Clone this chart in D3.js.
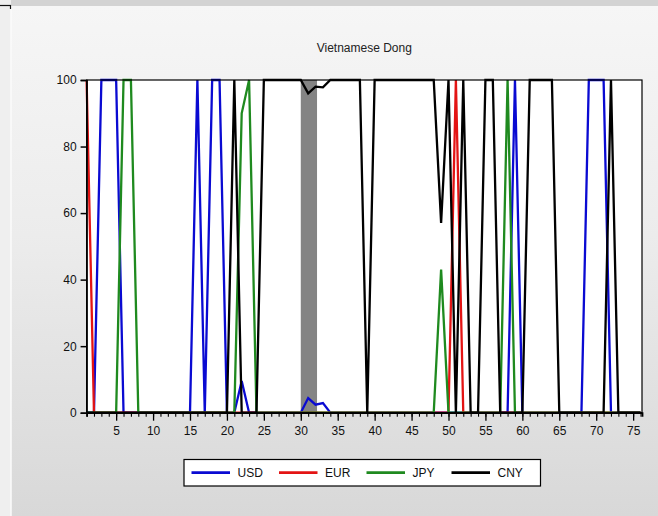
<!DOCTYPE html>
<html>
<head>
<meta charset="utf-8">
<script src="https://cdn.jsdelivr.net/npm/d3@7"></script>
<style>
  html, body { margin: 0; padding: 0; background: #ececec; }
  svg { display: block; font-family: "Liberation Sans", Arial, sans-serif; }
</style>
</head>
<body>
<svg id="chart" width="658" height="516"></svg>
<script>
// Observation index 1..76
const periods = d3.range(1, 77);

// Share (%) per currency, one value per period
const usd = [0,0,100,100,100,0,0,0,0,0, 0,0,0,0,0,100,0,100,100,0,
             0,9.5,0,0,0,0,0,0,0,0, 4.4,2.4,2.9,0,0,0,0,0,0,0,
             0,0,0,0,0,0,0,0,0,0, 0,0,0,0,0,0,0,0,100,0,
             0,0,0,0,0,0,0,0,100,100, 100,0,0,0,0,0];
const eur = [100,0,0,0,0,0,0,0,0,0, 0,0,0,0,0,0,0,0,0,0,
             0,0,0,0,0,0,0,0,0,0, 0,0,0,0,0,0,0,0,0,0,
             0,0,0,0,0,0,0,0,0,0, 100,0,0,0,0,0,0,0,0,0,
             0,0,0,0,0,0,0,0,0,0, 0,0,0,0,0,0];
const jpy = [0,0,0,0,0,100,100,0,0,0, 0,0,0,0,0,0,0,0,0,0,
             0,90,100,0,0,0,0,0,0,0, 0,0,0,0,0,0,0,0,0,0,
             0,0,0,0,0,0,0,0,43,0, 0,0,0,0,0,0,0,100,0,0,
             0,0,0,0,0,0,0,0,0,0, 0,0,0,0,0,0];
const cny = [0,0,0,0,0,0,0,0,0,0, 0,0,0,0,0,0,0,0,0,0,
             100,0,0,0,100,100,100,100,100,100, 96,98,97.8,100,100,100,100,100,0,100,
             100,100,100,100,100,100,100,100,57,100, 0,100,0,0,100,100,0,0,0,0,
             100,100,100,100,0,0,0,0,0,0, 0,100,0,0,0,0];

const seriesNames = ["USD", "EUR", "JPY", "CNY"];
const seriesValues = [usd, eur, jpy, cny];
const seriesColors = ["#0a0ad2", "#e31414", "#1f8a1f", "#000000"];

// Shaded period
const band = [30, 32.2];

const yTicks = [0, 20, 40, 60, 80, 100];
const xMajorTicks = d3.range(5, 76, 5);
const xMinorTicks = d3.range(1, 77);
const titleText = "Vietnamese Dong";

const svg = d3.select("#chart");
const W = 658, H = 516;
const plot = { left: 86.6, right: 642, top: 80, bottom: 412.7 };

// Panel background
const defs = svg.append("defs");
const grad = defs.append("linearGradient").attr("id", "bg")
  .attr("x1", 0).attr("y1", 0).attr("x2", 0).attr("y2", 1);
grad.append("stop").attr("offset", "0%").attr("stop-color", "#f6f6f6");
grad.append("stop").attr("offset", "45%").attr("stop-color", "#ececec");
grad.append("stop").attr("offset", "100%").attr("stop-color", "#d8d8d8");

svg.append("rect").attr("x", 0).attr("y", 0).attr("width", W).attr("height", H).attr("fill", "#efefef");
svg.append("rect").attr("x", 11).attr("y", 6).attr("width", W - 11).attr("height", H - 6).attr("fill", "url(#bg)");
svg.append("rect").attr("x", 11).attr("y", 0).attr("width", W - 11).attr("height", 6).attr("fill", "#d3d3d3");
svg.append("line").attr("x1", 11).attr("x2", 11).attr("y1", 6).attr("y2", H)
  .attr("stroke", "#fbfbfb").attr("stroke-width", 1.5);
svg.append("line").attr("x1", 0).attr("x2", 11).attr("y1", 5.5).attr("y2", 5.5)
  .attr("stroke", "#111").attr("stroke-width", 1.2);
svg.append("line").attr("x1", 10.5).attr("x2", 10.5).attr("y1", 5).attr("y2", 9)
  .attr("stroke", "#111").attr("stroke-width", 1.2);

const x = d3.scaleLinear().domain([1, 76.2]).range([plot.left, plot.right]);
const y = d3.scaleLinear().domain([0, 100]).range([plot.bottom, plot.top]);

// Plot area
svg.append("rect")
  .attr("x", plot.left).attr("y", plot.top)
  .attr("width", plot.right - plot.left).attr("height", plot.bottom - plot.top)
  .attr("fill", "#ffffff");

svg.append("rect")
  .attr("x", x(band[0])).attr("y", plot.top)
  .attr("width", x(band[1]) - x(band[0])).attr("height", plot.bottom - plot.top)
  .attr("fill", "#848484");

// Title
svg.append("text")
  .attr("x", (plot.left + plot.right) / 2).attr("y", 52)
  .attr("text-anchor", "middle").attr("font-size", 12).attr("fill", "#222")
  .text(titleText);

// Series lines
const line = d3.line().x((d, i) => x(periods[i])).y(d => y(d));
const lines = svg.append("g");
seriesValues.forEach((vals, k) => {
  lines.append("path")
    .datum(vals)
    .attr("d", line)
    .attr("fill", "none")
    .attr("stroke", seriesColors[k])
    .attr("stroke-width", 2.3)
    .attr("stroke-linejoin", "miter");
});

// Frame
svg.append("rect")
  .attr("x", plot.left).attr("y", plot.top)
  .attr("width", plot.right - plot.left).attr("height", plot.bottom - plot.top)
  .attr("fill", "none").attr("stroke", "#000").attr("stroke-width", 1.2);

// Y axis
const yAxis = svg.append("g").attr("transform", `translate(${plot.left},0)`)
  .call(d3.axisLeft(y).tickValues(yTicks).tickSize(6).tickPadding(4).tickFormat(d3.format("d")));
yAxis.select(".domain").attr("stroke", "#000").attr("stroke-width", 1.5);
yAxis.selectAll(".tick line").attr("stroke", "#000").attr("stroke-width", 1.5);
yAxis.selectAll(".tick text").attr("font-size", 12).attr("fill", "#111")
  .attr("font-family", "Liberation Sans, Arial, sans-serif");

// X axis: minor ticks each period, labelled major ticks every 5
const xMinor = svg.append("g").attr("transform", `translate(0,${plot.bottom})`)
  .call(d3.axisBottom(x).tickValues(xMinorTicks).tickSize(4).tickFormat(""));
xMinor.select(".domain").attr("stroke", "#000").attr("stroke-width", 1.8);
xMinor.selectAll(".tick line").attr("stroke", "#000").attr("stroke-width", 1.1);

const xMajor = svg.append("g").attr("transform", `translate(0,${plot.bottom})`)
  .call(d3.axisBottom(x).tickValues(xMajorTicks).tickSize(8).tickPadding(6).tickFormat(d3.format("d")));
xMajor.select(".domain").remove();
xMajor.selectAll(".tick line").attr("stroke", "#000").attr("stroke-width", 1.3);
xMajor.selectAll(".tick text").attr("font-size", 12).attr("fill", "#111")
  .attr("font-family", "Liberation Sans, Arial, sans-serif");

// Legend
const legend = svg.append("g");
legend.append("rect")
  .attr("x", 184).attr("y", 459.5).attr("width", 356.5).attr("height", 26.5)
  .attr("fill", "#fff").attr("stroke", "#000").attr("stroke-width", 1.2);
const legendX = [191.5, 279, 366.5, 451.5];
seriesNames.forEach((name, k) => {
  legend.append("line")
    .attr("x1", legendX[k]).attr("x2", legendX[k] + 38.5)
    .attr("y1", 472.7).attr("y2", 472.7)
    .attr("stroke", seriesColors[k]).attr("stroke-width", 2.8);
  legend.append("text")
    .attr("x", legendX[k] + 46).attr("y", 477)
    .attr("font-size", 12).attr("fill", "#111")
    .text(name);
});
</script>
</body>
</html>
